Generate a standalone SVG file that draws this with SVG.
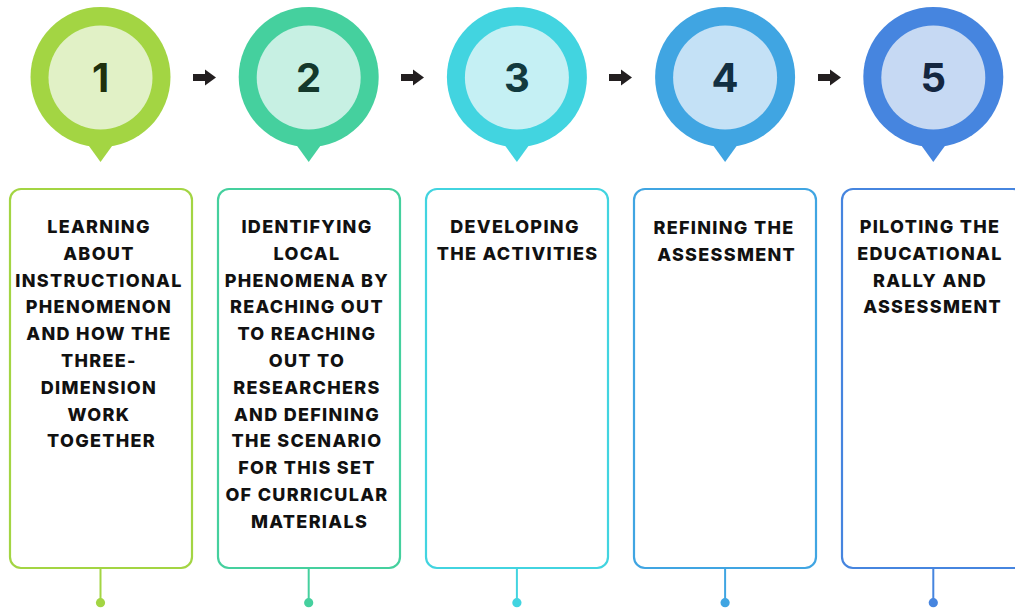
<svg xmlns="http://www.w3.org/2000/svg" width="1015" height="609" viewBox="0 0 1015 609">
<defs>
<style>
.lbl{font-family:Inter,"Liberation Sans",sans-serif;font-weight:800;font-size:18px;fill:#111;text-anchor:middle;letter-spacing:1.3px}
.num{font-family:Inter,"Liberation Sans",sans-serif;font-weight:700;font-size:40px;text-anchor:middle}
.box{fill:#fff;stroke-width:2.2}
.arrow{fill:#231f20}
</style>
<path id="arr" d="M0,-3.5 H12 V-8 L23,0 L12,8 V3.5 H0 Z"/>
</defs>
<rect width="1015" height="609" fill="#fff"/>

<g id="connectors">
<use href="#arr" class="arrow" x="193" y="77.5"/>
<use href="#arr" class="arrow" x="401" y="77.5"/>
<use href="#arr" class="arrow" x="609" y="77.5"/>
<use href="#arr" class="arrow" x="818" y="77.5"/>
<g stroke-width="2">
<line x1="100.5" y1="568" x2="100.5" y2="602" stroke="#a3d543"/>
<line x1="308.7" y1="568" x2="308.7" y2="602" stroke="#45d09e"/>
<line x1="516.9" y1="568" x2="516.9" y2="602" stroke="#42d4e0"/>
<line x1="725.1" y1="568" x2="725.1" y2="602" stroke="#40a5e2"/>
<line x1="933.3" y1="568" x2="933.3" y2="602" stroke="#4685df"/>
</g>
<circle cx="100.5" cy="602.7" r="4.6" fill="#a3d543"/>
<circle cx="308.7" cy="602.7" r="4.6" fill="#45d09e"/>
<circle cx="516.9" cy="602.7" r="4.6" fill="#42d4e0"/>
<circle cx="725.1" cy="602.7" r="4.6" fill="#40a5e2"/>
<circle cx="933.3" cy="602.7" r="4.6" fill="#4685df"/>
</g>

<g id="step1">
<circle cx="100.5" cy="77" r="70" fill="#a3d543"/>
<path d="M87.5,144 L100.5,162 L113.5,144 Z" fill="#a3d543"/>
<circle cx="100.5" cy="77.5" r="52" fill="#e1f1c6"/>
<text class="num" x="100.5" y="92" fill="#1f300d">1</text>
<rect class="box" x="10" y="189" width="182" height="379" rx="11" stroke="#a3d543"/>
<text class="lbl">
<tspan x="101.6" y="233">LEARNING</tspan>
<tspan x="101.6" y="259.8">ABOUT</tspan>
<tspan x="101.6" y="286.6">INSTRUCTIONAL</tspan>
<tspan x="101.6" y="313.4">PHENOMENON</tspan>
<tspan x="101.6" y="340.2">AND HOW THE</tspan>
<tspan x="101.6" y="367">THREE-</tspan>
<tspan x="101.6" y="393.8">DIMENSION</tspan>
<tspan x="101.6" y="420.6">WORK</tspan>
<tspan x="101.6" y="447.4">TOGETHER</tspan>
</text>
</g>

<g id="step2">
<circle cx="308.7" cy="77" r="70" fill="#45d09e"/>
<path d="M295.7,144 L308.7,162 L321.7,144 Z" fill="#45d09e"/>
<circle cx="308.7" cy="77.5" r="52" fill="#c7f0e3"/>
<text class="num" x="308.7" y="92" fill="#14382b">2</text>
<rect class="box" x="218" y="189" width="182" height="379" rx="11" stroke="#45d09e"/>
<text class="lbl">
<tspan x="309.6" y="233">IDENTIFYING</tspan>
<tspan x="309.6" y="259.8">LOCAL</tspan>
<tspan x="309.6" y="286.6">PHENOMENA BY</tspan>
<tspan x="309.6" y="313.4">REACHING OUT</tspan>
<tspan x="309.6" y="340.2">TO REACHING</tspan>
<tspan x="309.6" y="367">OUT TO</tspan>
<tspan x="309.6" y="393.8">RESEARCHERS</tspan>
<tspan x="309.6" y="420.6">AND DEFINING</tspan>
<tspan x="309.6" y="447.4">THE SCENARIO</tspan>
<tspan x="309.6" y="474.2">FOR THIS SET</tspan>
<tspan x="309.6" y="501">OF CURRICULAR</tspan>
<tspan x="309.6" y="527.8">MATERIALS</tspan>
</text>
</g>

<g id="step3">
<circle cx="516.9" cy="77" r="70" fill="#42d4e0"/>
<path d="M503.9,144 L516.9,162 L529.9,144 Z" fill="#42d4e0"/>
<circle cx="516.9" cy="77.5" r="52" fill="#c5f0f4"/>
<text class="num" x="516.9" y="92" fill="#123a3e">3</text>
<rect class="box" x="426" y="189" width="182" height="379" rx="11" stroke="#42d4e0"/>
<text class="lbl">
<tspan x="517.6" y="233">DEVELOPING</tspan>
<tspan x="517.6" y="259.8">THE ACTIVITIES</tspan>
</text>
</g>

<g id="step4">
<circle cx="725.1" cy="77" r="70" fill="#40a5e2"/>
<path d="M712.1,144 L725.1,162 L738.1,144 Z" fill="#40a5e2"/>
<circle cx="725.1" cy="77.5" r="52" fill="#c4e1f6"/>
<text class="num" x="725.1" y="92" fill="#122f42">4</text>
<rect class="box" x="634" y="189" width="182" height="379" rx="11" stroke="#40a5e2"/>
<text class="lbl">
<tspan x="726.6" y="234">REFINING THE</tspan>
<tspan x="726.6" y="260.8">ASSESSMENT</tspan>
</text>
</g>

<g id="step5">
<circle cx="933.3" cy="77" r="70" fill="#4685df"/>
<path d="M920.3,144 L933.3,162 L946.3,144 Z" fill="#4685df"/>
<circle cx="933.3" cy="77.5" r="52" fill="#c6d9f3"/>
<text class="num" x="933.3" y="92" fill="#142640">5</text>
<rect class="box" x="842" y="189" width="182" height="379" rx="11" stroke="#4685df"/>
<text class="lbl">
<tspan x="932.6" y="233">PILOTING THE</tspan>
<tspan x="932.6" y="259.8">EDUCATIONAL</tspan>
<tspan x="932.6" y="286.6">RALLY AND</tspan>
<tspan x="932.6" y="313.4">ASSESSMENT</tspan>
</text>
</g>
</svg>
